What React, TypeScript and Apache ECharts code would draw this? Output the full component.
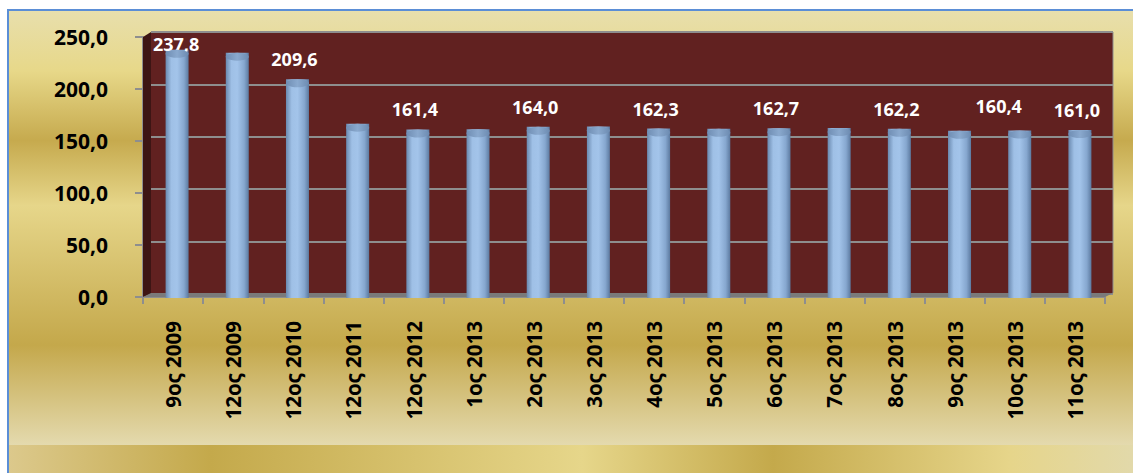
import React, { useEffect, useRef } from "react";
import * as echarts from "echarts";

const categories = [
  "9oς 2009", "12oς 2009", "12oς 2010", "12oς 2011", "12oς 2012", "1oς 2013",
  "2oς 2013", "3oς 2013", "4oς 2013", "5oς 2013", "6oς 2013", "7oς 2013",
  "8oς 2013", "9oς 2013", "10oς 2013", "11oς 2013",
];
const values = [
  237.8, 235.0, 209.6, 167.0, 161.4, 161.6, 164.0, 164.2,
  162.3, 162.2, 162.7, 162.8, 162.2, 160.2, 160.4, 161.0,
];
const labeledIndices = [0, 2, 4, 6, 8, 10, 12, 14, 15];
const yMin = 0;
const yMax = 250;
const yStep = 50;

// label nudges (style only)
const labelOffsets: Record<number, [number, number]> = {
  0: [-1, 14],
  14: [-21, -5],
};

const fmt = (v: number) => v.toFixed(1).replace(".", ",");
const FONT = "'Open Sans', 'Liberation Sans', sans-serif";
const GRID_GRAY = "#8E8E8E";

export default function App() {
  const ref = useRef<HTMLDivElement>(null);
  useEffect(() => {
    if (!ref.current) return;
    const chart = echarts.init(ref.current, undefined, { renderer: "svg" });

    const barColor = new echarts.graphic.LinearGradient(0, 0, 1, 0, [
      { offset: 0, color: "#6A89AF" },
      { offset: 0.25, color: "#9FC0E6" },
      { offset: 0.5, color: "#A3C4EA" },
      { offset: 0.8, color: "#86A7CF" },
      { offset: 1, color: "#5C7AA0" },
    ]);
    const topColor = new echarts.graphic.LinearGradient(0, 0, 1, 0, [
      { offset: 0, color: "#6F8DB3" },
      { offset: 0.5, color: "#8AA9CE" },
      { offset: 1, color: "#6C8AB0" },
    ]);

    const barData = values.map((v, i) => {
      const show = labeledIndices.includes(i);
      const off = labelOffsets[i] || [-3, 0];
      return {
        value: v,
        label: { show, offset: off },
      };
    });

    const hiddenCat = (gi: number) => ({
      type: "category" as const,
      gridIndex: gi,
      data: categories,
      show: false,
    });
    const hiddenVal = (gi: number, split: boolean) => ({
      type: "value" as const,
      gridIndex: gi,
      min: yMin,
      max: yMax,
      interval: yStep,
      axisLine: { show: false },
      axisTick: { show: false },
      axisLabel: { show: false },
      splitLine: { show: split, lineStyle: { color: GRID_GRAY, width: 2 } },
    });

    chart.setOption({
      animation: false,
      backgroundColor: "#ffffff",
      graphic: [
        {
          type: "rect",
          z: -100,
          silent: true,
          shape: { x: 8, y: 10, width: 1125, height: 435 },
          style: {
            fill: new echarts.graphic.LinearGradient(0, 0, 0, 1, [
              { offset: 0, color: "#E8DFAD" },
              { offset: 0.14, color: "#E7D889" },
              { offset: 0.3, color: "#C6AA4E" },
              { offset: 0.45, color: "#E6D68A" },
              { offset: 0.77, color: "#C4A84B" },
              { offset: 1, color: "#E4DAAE" },
            ]),
          },
        },
        {
          type: "rect",
          z: -100,
          silent: true,
          shape: { x: 8, y: 445, width: 1125, height: 28 },
          style: {
            fill: new echarts.graphic.LinearGradient(0, 0, 1, 0, [
              { offset: 0, color: "#DCC98C" },
              { offset: 0.18, color: "#C4A94B" },
              { offset: 0.51, color: "#E6D68A" },
              { offset: 0.68, color: "#C4A94B" },
              { offset: 0.89, color: "#E6D58A" },
              { offset: 1, color: "#E2D9AA" },
            ]),
          },
        },
        {
          type: "line",
          z: -90,
          silent: true,
          shape: { x1: 7, y1: 10, x2: 1133, y2: 10 },
          style: { stroke: "#5B8ED6", lineWidth: 2 },
        },
        {
          type: "line",
          z: -90,
          silent: true,
          shape: { x1: 8, y1: 9, x2: 8, y2: 473 },
          style: { stroke: "#5B8ED6", lineWidth: 2 },
        },
        {
          type: "polygon",
          z: 1,
          silent: true,
          shape: { points: [[143, 37], [151, 32], [151, 294], [143, 297]] },
          style: { fill: "#3D1514" },
        },
        {
          type: "polygon",
          z: 1,
          silent: true,
          shape: { points: [[143, 297], [151, 293], [1113, 293], [1105, 297]] },
          style: { fill: "#7A7A7A" },
        },
        {
          type: "line",
          z: 1,
          silent: true,
          shape: { x1: 1113, y1: 32, x2: 1113, y2: 293 },
          style: { stroke: GRID_GRAY, lineWidth: 1 },
        },
      ],
      grid: [
        // back wall
        {
          left: 151, right: 20, top: 32, bottom: 179,
          show: true, backgroundColor: "#612120", borderWidth: 0,
        },
        // bars
        { left: 147, right: 23, top: 37, bottom: 175 },
        // front axes
        { left: 143, right: 28, top: 37, bottom: 176 },
      ],
      xAxis: [
        hiddenCat(0),
        hiddenCat(1),
        {
          type: "category",
          gridIndex: 2,
          data: categories,
          axisLine: { show: true, lineStyle: { color: GRID_GRAY, width: 2 } },
          axisTick: { show: true, length: 7, lineStyle: { color: GRID_GRAY, width: 2 } },
          axisLabel: {
            rotate: 90,
            margin: 24,
            color: "#000",
            fontFamily: FONT,
            fontWeight: "bold",
            fontSize: 20.5,
          },
        },
      ],
      yAxis: [
        hiddenVal(0, true),
        hiddenVal(1, false),
        {
          type: "value",
          gridIndex: 2,
          min: yMin,
          max: yMax,
          interval: yStep,
          axisLine: { show: true, lineStyle: { color: GRID_GRAY, width: 2 } },
          axisTick: { show: true, length: 8, lineStyle: { color: GRID_GRAY, width: 2 } },
          splitLine: { show: false },
          axisLabel: {
            formatter: (v: number) => fmt(v),
            margin: 35,
            color: "#000",
            fontFamily: FONT,
            fontWeight: "bold",
            fontSize: 21,
          },
        },
      ],
      series: [
        {
          type: "bar",
          xAxisIndex: 1,
          yAxisIndex: 1,
          barWidth: 23,
          z: 3,
          itemStyle: { color: barColor },
          label: {
            position: "top",
            distance: 11,
            color: "#fff",
            fontFamily: FONT,
            fontWeight: "bold",
            fontSize: 18,
            formatter: (p: any) => fmt(p.value),
          },
          data: barData,
        },
        {
          type: "pictorialBar",
          xAxisIndex: 1,
          yAxisIndex: 1,
          symbol: "circle",
          symbolSize: [23, 8],
          symbolPosition: "end",
          z: 4,
          itemStyle: { color: topColor },
          data: values,
        },
      ],
    });
    return () => chart.dispose();
  }, []);

  return (
    <div
      ref={ref}
      style={{ position: "fixed", left: 0, top: 0, width: 1133, height: 473 }}
    />
  );
}
